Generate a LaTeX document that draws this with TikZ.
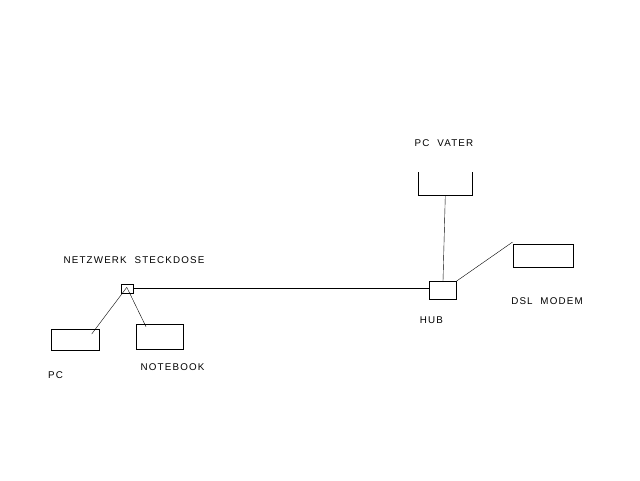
\documentclass[tikz,border=0pt]{standalone}
\usepackage{fontspec}
\setmainfont{Liberation Sans}[LetterSpace=12]
\begin{document}
\begin{tikzpicture}[x=1pt, y=-1pt, font=\fontsize{9.8}{10}\selectfont,
    device/.style={draw=black, thin, minimum width=#1, inner sep=0pt},
    label/.style={inner sep=0pt}]
  \useasboundingbox[fill=white] (0,0) rectangle (640,480);
  %% devices
  \node[device=12pt, minimum height=9pt] (socket) at (127.3,288.3) {};
  \node[device=48pt, minimum height=21pt] (pc) at (75.3,339.7) {};
  \node[device=47pt, minimum height=25pt] (notebook) at (159.8,336.8) {};
  \node[device=27pt, minimum height=18pt] (hub) at (443,290.2) {};
  \node[device=60.6pt, minimum height=23pt] (dsl) at (543,255.8) {};
  \node[minimum width=54pt, minimum height=22.3pt, inner sep=0pt] (pcvater) at (445.3,183.8) {};
  \draw[thin] (pcvater.north west) -- (pcvater.south west)
       -- (pcvater.south east) -- (pcvater.north east);
  %% cable ends
  \coordinate (socket tip) at (126.8,287.3);
  \coordinate (pc port) at (91.7,334);
  \coordinate (notebook port) at (146,326.7);
  %% cables
  \draw[thin] (socket.east) -- (socket.east -| hub.west);
  \draw[thin] (socket tip) -- (pc port);
  \draw[thin] (socket tip) -- (notebook port);
  \draw[thin] (pcvater.south) -- (hub.north);
  \draw[thin] (hub.north east) -- ([yshift=2pt]dsl.north west);
  %% labels
  \node[label] (socket label) at (134,260.5) {NETZWERK\ \ STECKDOSE};
  \node[label] (pc label) at (55.5,375) {PC};
  \node[label] (notebook label) at (172.5,367) {NOTEBOOK};
  \node[label] (hub label) at (431.5,320.5) {HUB};
  \node[label] (dsl label) at (547,301.5) {DSL\ \ MODEM};
  \node[label] (pcvater label) at (444,143.5) {PC\ \ VATER};
\end{tikzpicture}
\end{document}
